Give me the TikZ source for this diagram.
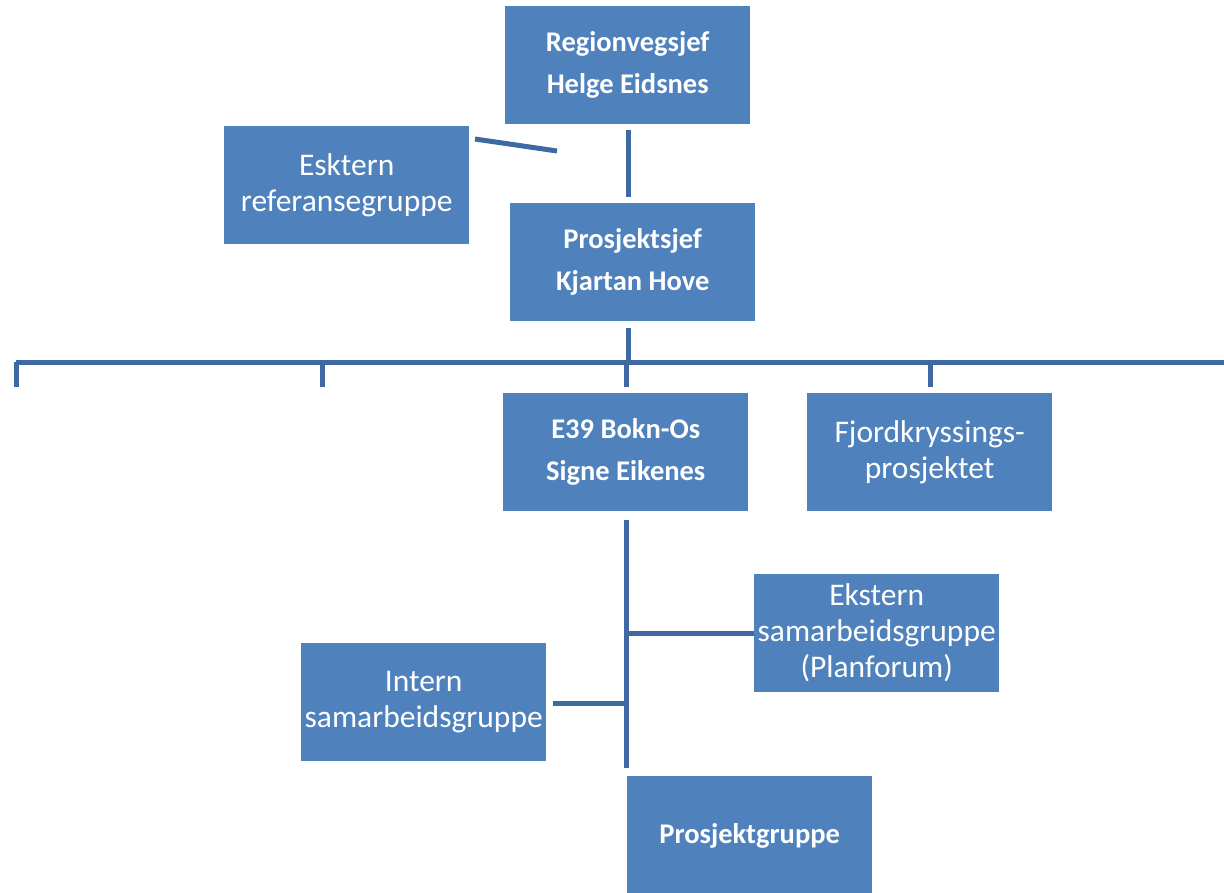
\documentclass[tikz,border=0pt]{standalone}
\usepackage{fontspec}
\setmainfont{Carlito}
\definecolor{boxblue}{HTML}{4F81BD}
\definecolor{lineblue}{HTML}{3E69A3}
\begin{document}
\begin{tikzpicture}[x=1pt,y=-1pt,
  box/.style={fill=boxblue,draw=none,text=white,minimum width=245pt,minimum height=118pt,anchor=north west,inner sep=0pt,align=center},
  bbox/.style={box,font=\fontsize{28.5}{42}\selectfont\bfseries},
  rbox/.style={box,font=\fontsize{31.5}{36}\selectfont},
  conn/.style={draw=lineblue,line width=5pt}]
\useasboundingbox (0,0) rectangle (1224,892);
\node[bbox] (reg) at (505,6) {Regionvegsjef\\Helge Eidsnes};
\node[rbox] (eks) at (224,126) {Esktern\\referansegruppe};
\node[bbox] (pro) at (510,203) {Prosjektsjef\\Kjartan Hove};
\node[bbox] (e39) at (503,393) {E39 Bokn-Os\\Signe Eikenes};
\node[rbox] (fjo) at (807,393) {Fjordkryssings-\\prosjektet};
\node[rbox] (ext) at (754,574) {Ekstern\\samarbeidsgruppe\\(Planforum)};
\node[rbox] (int) at (301,643) {Intern\\samarbeidsgruppe};
\node[bbox, minimum height=120pt] (grp) at (627,776) {Prosjektgruppe};
% connectors
\coordinate (r1) at (628,130);
\coordinate (r2) at (628,197);
\draw[conn] (r1) -- (r2);
\coordinate (e1) at (475,139);
\coordinate (e2) at (557,151);
\draw[conn] (e1) -- (e2);
\coordinate (p1) at (628,328);
\coordinate (h0) at (628,362);
\draw[conn] (p1) -- (h0);
\coordinate (hl) at (16,362);
\coordinate (hr) at (1224,362);
\draw[conn] (hl) -- (hr);
\foreach \x/\n in {16/a,322/b,626/c,930/d}{
  \coordinate (t\n) at (\x,362);
  \draw[conn] (t\n) -- ++(0,25);
}
\coordinate (v1) at (626,520);
\coordinate (v2) at (626,768);
\draw[conn] (v1) -- (v2);
\coordinate (x1) at (628,633);
\draw[conn] (x1) -- (ext.west |- x1);
\coordinate (i1) at (626,703);
\coordinate (i2) at (553,703);
\draw[conn] (i1) -- (i2);
\end{tikzpicture}
\end{document}
